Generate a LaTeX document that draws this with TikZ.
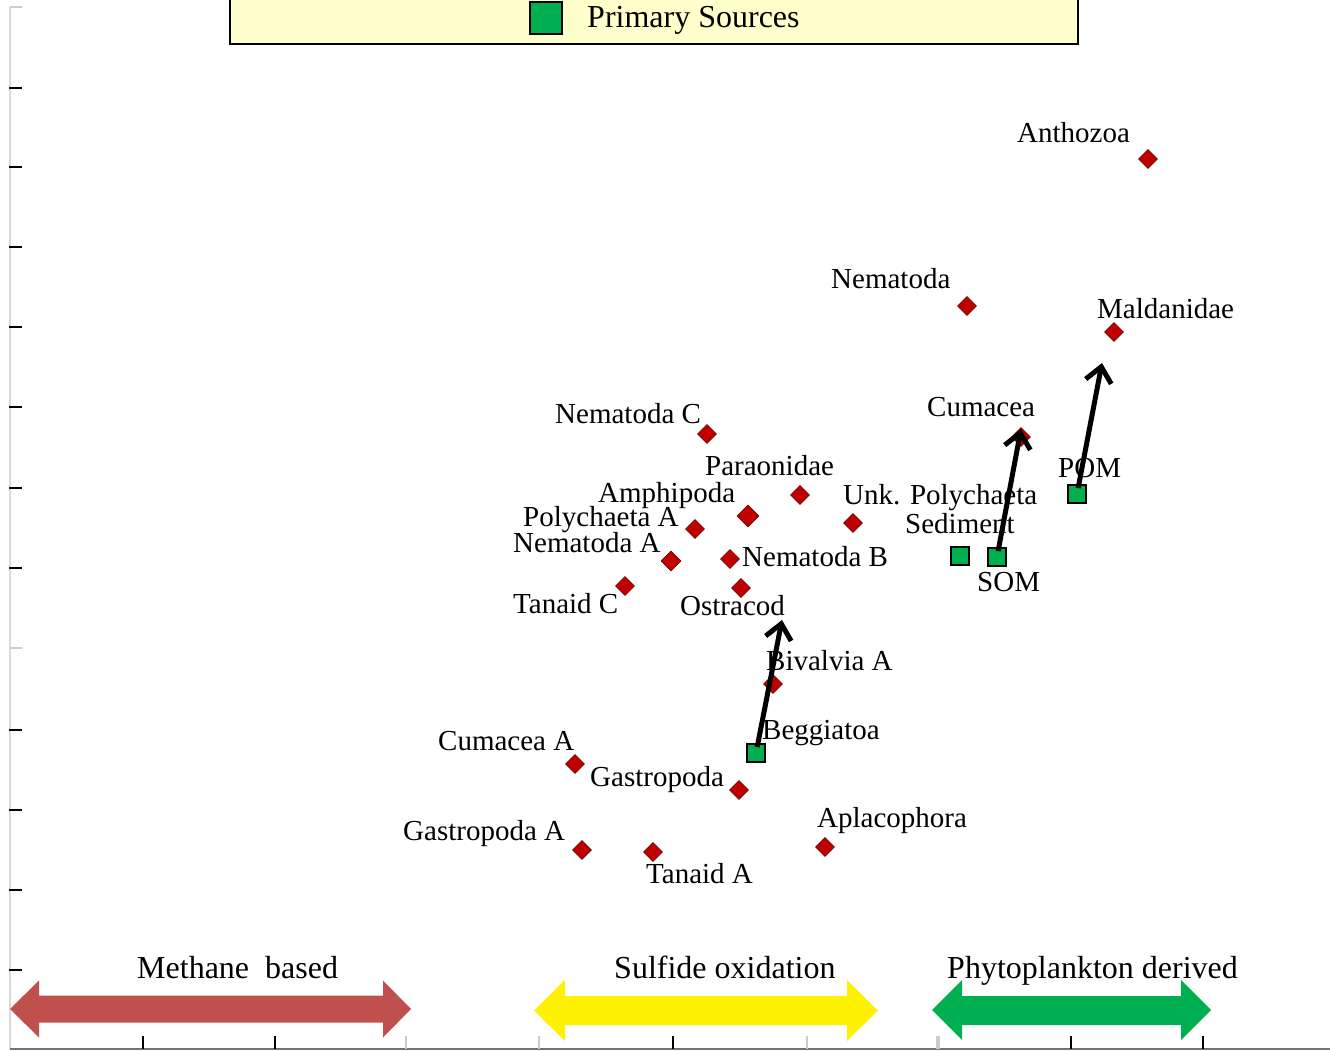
\documentclass[tikz,border=0pt]{standalone}
\usepackage{fontspec}
\setmainfont{Liberation Serif}
\usetikzlibrary{shapes.geometric,arrows.meta}
\definecolor{mkred}{HTML}{C00000}
\definecolor{srcgreen}{HTML}{00B050}
\definecolor{methred}{HTML}{C0504D}
\definecolor{legfill}{HTML}{FFFFCC}
\tikzset{
  lbl/.style={anchor=base west, inner sep=0pt, font=\fontsize{29}{34}\selectfont},
  biglbl/.style={anchor=base west, inner sep=0pt, font=\fontsize{32}{38}\selectfont},
  mk/.style={diamond, fill=mkred, draw=mkred!60!black, line width=0.8pt, minimum size=19pt, inner sep=0pt},
  src/.style={rectangle, fill=srcgreen, draw=black, line width=2pt, minimum size=18pt, inner sep=0pt},
  arr/.style={line width=5pt, -{Straight Barb[length=15pt,width=26pt,line width=5pt]}, shorten <=6pt},
  ytick/.style={line width=2pt, black},
  gtick/.style={line width=2pt, black!20},
}
\begin{document}
\begin{tikzpicture}[x=1pt,y=-1pt]
\useasboundingbox (0,0) rectangle (1330,1051);
\clip (0,0) rectangle (1330,1051);
% axes
\draw[line width=2pt, black!15] (10,7) -- (10,1049);
\draw[line width=2pt, black!55] (10,1049) -- (1330,1049);
\draw[gtick] (10,7) -- (22,7);
\foreach \yy in {88,167,247,327,407,488,568,730,810,890,970}
  \draw[ytick] (9,\yy) -- (22,\yy);
\draw[gtick] (9,648) -- (22,648);
\foreach \xx in {143,275,673,1071,1203}
  \draw[ytick] (\xx,1036) -- (\xx,1049);
\foreach \xx in {406,539,807}
  \draw[gtick] (\xx,1036) -- (\xx,1049);
\draw[line width=4pt, black!20] (938,1036) -- (938,1049);
% legend
\node[draw=black, line width=2pt, fill=legfill, minimum width=848pt, minimum height=62pt, inner sep=0pt, anchor=south west] (legend) at (229,45) {};
\node[rectangle, fill=srcgreen, draw=black, line width=1.5pt, minimum width=32pt, minimum height=32pt, inner sep=0pt] (legsq) at (546,18) {};
\node[biglbl] (legtxt) at (587,28) {Primary Sources};
% range arrows
\fill[methred] (10,1009) -- (39,980.5) -- (39,995.5) -- (383,995.5) -- (383,980.5) -- (411,1009) -- (383,1037.5) -- (383,1022.5) -- (39,1022.5) -- (39,1037.5) -- cycle;
\fill[yellow] (534,1010.5) -- (565,980) -- (565,996) -- (847,996) -- (847,980) -- (878,1010.5) -- (847,1041) -- (847,1025) -- (565,1025) -- (565,1041) -- cycle;
\fill[srcgreen] (932,1010) -- (962,980) -- (962,996) -- (1181,996) -- (1181,980) -- (1211,1010) -- (1181,1040) -- (1181,1025) -- (962,1025) -- (962,1040) -- cycle;
\node[biglbl] (methane) at (137,978) {Methane\ \ based};
\node[biglbl] (sulfide) at (614,978) {Sulfide oxidation};
\node[biglbl] (phyto) at (947,978) {Phytoplankton derived};
% consumers
\node[mk] (anthozoa) at (1148,159) {};
\node[mk] (nematoda) at (967,306) {};
\node[mk] (maldanidae) at (1114,332) {};
\node[mk] (cumacea) at (1021,437) {};
\node[mk] (nematodaC) at (707,434) {};
\node[mk] (paraonidae) at (800,495) {};
\node[mk, minimum size=22pt] (amphipoda) at (748,516) {};
\node[mk] (unkpoly) at (853,523) {};
\node[mk] (polyA) at (695,529) {};
\node[mk, minimum size=20pt] (nematodaA) at (671,561) {};
\node[mk] (nematodaB) at (730,559) {};
\node[mk] (tanaidC) at (625,586) {};
\node[mk] (ostracod) at (741,588) {};
\node[mk] (bivalviaA) at (773,684) {};
\node[mk] (cumaceaA) at (575,764) {};
\node[mk] (gastropoda) at (739,790) {};
\node[mk] (aplacophora) at (825,847) {};
\node[mk] (gastropodaA) at (582,850) {};
\node[mk] (tanaidA) at (653,852) {};
% sources
\node[src] (beggiatoa) at (756,753) {};
\node[src] (sediment) at (960,556) {};
\node[src] (som) at (997,557) {};
\node[src] (pom) at (1077,494) {};
% labels
\node[lbl] at (1017,143) {Anthozoa};
\node[lbl] at (831,288) {Nematoda};
\node[lbl] at (1097,318) {Maldanidae};
\node[lbl] at (927,416) {Cumacea};
\node[lbl] at (555,423) {Nematoda C};
\node[lbl] at (705,475) {Paraonidae};
\node[lbl] at (598,502) {Amphipoda};
\node[lbl] at (843,504) {Unk. Polychaeta};
\node[lbl] at (523,526) {Polychaeta A};
\node[lbl] at (513,552) {Nematoda A};
\node[lbl] at (905,533) {Sediment};
\node[lbl] at (742,566) {Nematoda B};
\node[lbl] at (977,591) {SOM};
\node[lbl] at (513,613) {Tanaid C};
\node[lbl] at (680,615) {Ostracod};
\node[lbl] at (1058,477) {POM};
\node[lbl] at (766,670) {Bivalvia A};
\node[lbl] at (762,739) {Beggiatoa};
\node[lbl] at (438,750) {Cumacea A};
\node[lbl] at (590,786) {Gastropoda};
\node[lbl] at (817,827) {Aplacophora};
\node[lbl] at (403,840) {Gastropoda A};
\node[lbl] at (646,883) {Tanaid A};
% trophic arrows
\coordinate (begtip) at (782,620);
\coordinate (somtip) at (1021,429);
\coordinate (pomtip) at (1102,363);
\draw[arr] (beggiatoa.center) -- (begtip);
\draw[arr] (som.center) -- (somtip);
\draw[arr] (pom.center) -- (pomtip);
\end{tikzpicture}
\end{document}
